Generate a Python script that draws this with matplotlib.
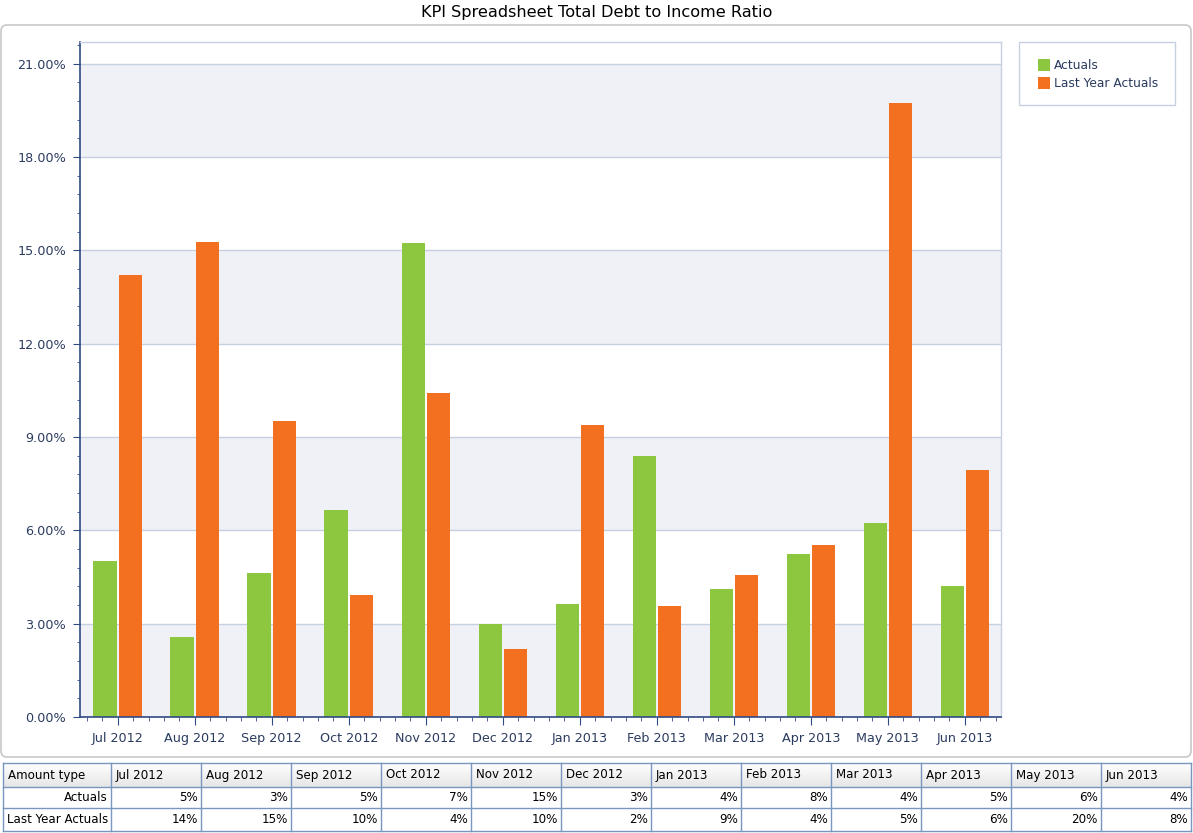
import numpy as np
import matplotlib
matplotlib.use('Agg')
import matplotlib.pyplot as plt
from matplotlib.patches import Rectangle, FancyBboxPatch
from matplotlib.ticker import MultipleLocator, FuncFormatter

# data ------------------------------------------------
months = ['Jul 2012', 'Aug 2012', 'Sep 2012', 'Oct 2012', 'Nov 2012', 'Dec 2012',
          'Jan 2013', 'Feb 2013', 'Mar 2013', 'Apr 2013', 'May 2013', 'Jun 2013']
actuals = [5.02, 2.57, 4.63, 6.66, 15.24, 2.99, 3.63, 8.39, 4.12, 5.24, 6.24, 4.21]
last_year = [14.21, 15.27, 9.52, 3.92, 10.42, 2.19, 9.39, 3.57, 4.57, 5.53, 19.74, 7.94]
series_names = ['Actuals', 'Last Year Actuals']

green = '#8DC63F'
orange = '#F37021'
navy = '#2A3B5F'
spine_col = '#2F4A85'
grid_col = '#C5D0E0'
band_col = '#F0F1F6'

W, H = 1193, 833
fig = plt.figure(figsize=(W / 100, H / 100), dpi=100)
plt.rcParams['font.family'] = 'DejaVu Sans'

# overlay axes in pixel coords for frame, legend, table
ov = fig.add_axes([0, 0, 1, 1], zorder=0)
ov.set_xlim(0, W)
ov.set_ylim(H, 0)
ov.axis('off')

ov.add_patch(FancyBboxPatch((1, 25), 1190, 732, boxstyle='round,pad=0,rounding_size=6',
                            facecolor='white', edgecolor='#C8C8C8', lw=1.2))
fig.text(597 / W, 1 - 13 / H, 'KPI Spreadsheet Total Debt to Income Ratio',
         ha='center', va='center', fontsize=11.6, color='black')

# main chart ------------------------------------------
ax = fig.add_axes([80 / W, (H - 717) / H, 921 / W, 675 / H], zorder=1)
x = np.arange(len(months))
ymax = 21.7
ax.set_xlim(-0.49, 11.47)
ax.set_ylim(0, ymax)

# alternating bands
for i, lo in enumerate(np.arange(0, 24, 3)):
    if i % 2 == 0:
        ax.axhspan(lo, min(lo + 3, ymax), color=band_col, lw=0, zorder=0)
for v in np.arange(3, 22, 3):
    ax.axhline(v, color=grid_col, lw=1, zorder=0.5)

ax.bar(x - 0.16, actuals, width=0.31, color=green, lw=0, zorder=2, label=series_names[0])
ax.bar(x + 0.165, last_year, width=0.31, color=orange, lw=0, zorder=2, label=series_names[1])

ax.set_xticks(x)
ax.set_xticklabels(months)
ax.xaxis.set_minor_locator(MultipleLocator(0.2))
ax.yaxis.set_major_locator(MultipleLocator(3))
ax.yaxis.set_minor_locator(MultipleLocator(0.6))
ax.yaxis.set_major_formatter(FuncFormatter(lambda v, p: '%.2f%%' % v))
ax.tick_params(axis='both', which='both', direction='out', colors=spine_col,
               labelcolor=navy, labelsize=9.2)
ax.tick_params(axis='x', which='major', length=6, pad=5)
ax.tick_params(axis='x', which='minor', length=3)
ax.tick_params(axis='y', which='major', length=5, pad=5)
ax.tick_params(axis='y', which='minor', length=2.5)
for s in ['left', 'bottom']:
    ax.spines[s].set_color(spine_col)
    ax.spines[s].set_linewidth(1.2)
for s in ['top', 'right']:
    ax.spines[s].set_color(grid_col)
    ax.spines[s].set_linewidth(1)

# legend ----------------------------------------------
ov.add_patch(Rectangle((1019, 42), 156, 63, facecolor='white', edgecolor=grid_col, lw=1))
for i, (name, c) in enumerate(zip(series_names, [green, orange])):
    yy = 65 + i * 18
    ov.add_patch(Rectangle((1038, yy - 6), 12, 12, facecolor=c, edgecolor='none'))
    ov.text(1054, yy, name, ha='left', va='center', fontsize=8.8, color=navy)

# table -----------------------------------------------
tab_border = '#7A96BE'
col_x = [3, 111] + [111 + 90 * (i + 1) for i in range(12)]
row_y = [763, 787, 808, 831]
grad = np.linspace(1.0, 0.9, 50).reshape(-1, 1)
ov.imshow(grad, cmap='gray', vmin=0, vmax=1, aspect='auto',
          extent=(col_x[0], col_x[-1], row_y[1], row_y[0]), zorder=1)
ov.set_xlim(0, W)
ov.set_ylim(H, 0)
for xx in col_x:
    ov.plot([xx, xx], [row_y[0], row_y[-1]], color=tab_border, lw=1, zorder=2)
for yy in row_y:
    ov.plot([col_x[0], col_x[-1]], [yy, yy], color=tab_border, lw=1, zorder=2)

tfs = 8.6
header = ['Amount type'] + months
for j, h in enumerate(header):
    ov.text(col_x[j] + 5, (row_y[0] + row_y[1]) / 2, h, ha='left', va='center',
            fontsize=tfs, color='black', zorder=3)
for r, (name, vals) in enumerate(zip(series_names, [actuals, last_year])):
    yc = (row_y[r + 1] + row_y[r + 2]) / 2
    ov.text(col_x[1] - 3, yc, name, ha='right', va='center', fontsize=tfs, color='black', zorder=3)
    for j, v in enumerate(vals):
        ov.text(col_x[j + 2] - 3, yc, '%d%%' % round(v), ha='right', va='center',
                fontsize=tfs, color='black', zorder=3)

fig.savefig('out.png', dpi=100)
